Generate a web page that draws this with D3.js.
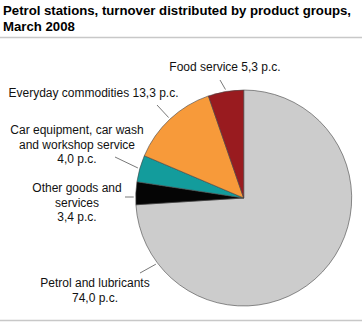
<!DOCTYPE html>
<html><head><meta charset="utf-8">
<script src="https://cdn.jsdelivr.net/npm/d3@7"></script>
<style>body{margin:0;background:#fff}svg{display:block}</style>
</head><body>
<svg id="c" width="362" height="322"></svg>
<script>
const categories = ["Petrol and lubricants","Other goods and services","Car equipment, car wash and workshop service","Everyday commodities","Food service"];
const values = [74.0, 3.4, 4.0, 13.3, 5.3];
const valueLabels = ["74,0 p.c.","3,4 p.c.","4,0 p.c.","13,3 p.c.","5,3 p.c."];
const colors = ["#cccccc","#050505","#139c9c","#f79a3a","#991b1f"];
const titleLines = ["Petrol stations, turnover distributed by product groups,","March 2008"];

const svg = d3.select("#c");
const font = "'Liberation Sans', Arial, sans-serif";
svg.append("g").selectAll("text").data(titleLines).join("text")
  .attr("x", 3).attr("y", (d,i)=>15+i*16)
  .attr("font-family", font).attr("font-weight","bold").attr("font-size", 13.2).attr("fill","#000")
  .text(d=>d);
svg.append("line").attr("x1",0).attr("x2",362).attr("y1",37.5).attr("y2",37.5).attr("stroke","#c8c8c8").attr("stroke-width",1.5);
svg.append("line").attr("x1",0).attr("x2",362).attr("y1",320.5).attr("y2",320.5).attr("stroke","#c8c8c8").attr("stroke-width",1.5);

const cx = 243.7, cy = 198, r = 108;
const pie = d3.pie().sort(null).value(d=>d)(values);
const arc = d3.arc().innerRadius(0).outerRadius(r);
const g = svg.append("g").attr("transform",`translate(${cx},${cy})`);
g.selectAll("path").data(pie).join("path").attr("d", arc)
  .attr("fill",(d,i)=>colors[i]).attr("stroke","#444").attr("stroke-width",0.6);

// label layout (positions only)
const layout = [
  {lines:[categories[0], valueLabels[0]], x:95, y:287, angle:233, ox:140, oy:273},
  {lines:["Other goods and","services", valueLabels[1]], x:77, y:192, ox:125, oy:197, angleOff:2},
  {lines:["Car equipment, car wash","and workshop service", valueLabels[2]], x:77, y:134, ox:115, oy:157},
  {lines:[categories[3]+" "+valueLabels[3]], x:93.5, y:97, ox:157, oy:105},
  {lines:[categories[4]+" "+valueLabels[4]], x:225, y:71, ox:220, oy:80}
];
const lbl = svg.append("g");
pie.forEach((p,i)=>{
  const L = layout[i];
  let a = L.angle!==undefined ? L.angle*Math.PI/180 : (p.startAngle+p.endAngle)/2;
  if (L.angleOff) a -= L.angleOff*Math.PI/180;
  const ix = cx + (r+2)*Math.sin(a), iy = cy - (r+2)*Math.cos(a);
  lbl.append("line").attr("x1",L.ox).attr("y1",L.oy).attr("x2",ix).attr("y2",iy)
    .attr("stroke","#555").attr("stroke-width",0.8);
  const t = lbl.append("text").attr("font-family",font).attr("font-size",12).attr("fill","#111")
    .attr("text-anchor","middle");
  L.lines.forEach((s,k)=>t.append("tspan").attr("x",L.x).attr("y",L.y+k*14.5).text(s));
});
</script>
</body></html>
